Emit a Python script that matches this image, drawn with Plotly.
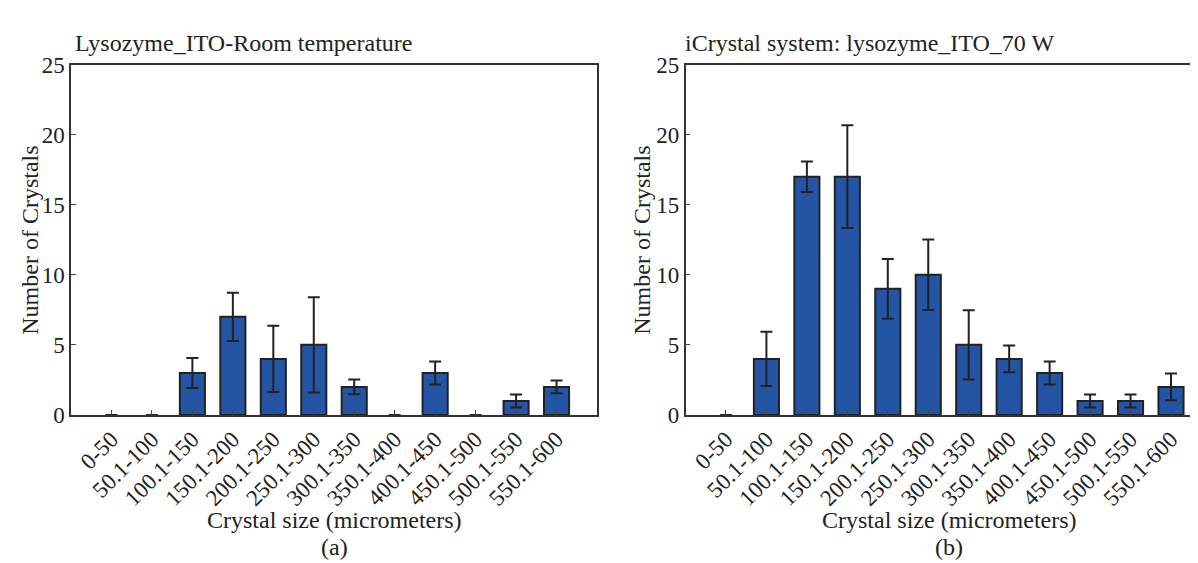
import plotly.graph_objects as go

categories = ["0-50", "50.1-100", "100.1-150", "150.1-200", "200.1-250", "250.1-300",
              "300.1-350", "350.1-400", "400.1-450", "450.1-500", "500.1-550", "550.1-600"]

room_counts = [0, 0, 3, 7, 4, 5, 2, 0, 3, 0, 1, 2]
room_err = [None, None, 1.07, 1.72, 2.37, 3.4, 0.53, None, 0.82, None, 0.46, 0.46]

w70_counts = [0, 4, 17, 17, 9, 10, 5, 4, 3, 1, 1, 2]
w70_err = [None, 1.93, 1.09, 3.67, 2.13, 2.52, 2.47, 0.95, 0.82, 0.46, 0.46, 0.95]

title_a = "Lysozyme_ITO-Room temperature"
title_b = "iCrystal system: lysozyme_ITO_70 W"
xtitle = "Crystal size (micrometers)"
ytitle = "Number of Crystals"
ytick_vals = [0, 5, 10, 15, 20, 25]

W, H = 1198, 563
FONT = "Liberation Serif"
BLUE = "#2455a4"
DARK = "#222222"

def px(x):
    return x / W

def py(y):
    return 1 - y / H

fig = go.Figure()
for counts, err, xa, ya in [(room_counts, room_err, "x", "y"), (w70_counts, w70_err, "x2", "y2")]:
    fig.add_trace(go.Bar(
        x=categories, y=counts, xaxis=xa, yaxis=ya,
        marker=dict(color=BLUE, line=dict(color=DARK, width=[0 if c == 0 else 2 for c in counts])),
        error_y=dict(type="data", array=err, visible=True, color=DARK, thickness=2, width=6),
        showlegend=False,
    ))

ydom = [py(413.3), py(46.6)]
axis_common = dict(
    showgrid=False, zeroline=False, showline=True, linecolor="#333333", linewidth=1.5,
    ticks="inside", ticklen=5, tickcolor="#444444", tickwidth=1.2,
    tickfont=dict(family=FONT, size=23, color=DARK),
)
fig.update_layout(
    width=W, height=H,
    margin=dict(l=0, r=0, t=0, b=0),
    paper_bgcolor="white", plot_bgcolor="white",
    bargap=0.38,
    xaxis=dict(domain=[px(63), px(589)], range=[-1, 12], type="category",
               tickangle=-45, mirror=True, anchor="y", **axis_common),
    yaxis=dict(domain=ydom, range=[0, 25], tickvals=ytick_vals, mirror=True, anchor="x", **axis_common),
    xaxis2=dict(domain=[px(677.5), 1], range=[-1, 11.865], type="category",
                tickangle=-45, mirror=True, anchor="y2", **axis_common),
    yaxis2=dict(domain=ydom, range=[0, 25], tickvals=ytick_vals, mirror=False, anchor="x2", **axis_common),
)

tf = dict(family=FONT, size=24, color=DARK)
ann = [
    dict(text=title_a, x=px(65), y=py(24), xanchor="left", yanchor="middle"),
    dict(text=title_b, x=px(675), y=py(24), xanchor="left", yanchor="middle"),
    dict(text=xtitle, x=px(326), y=py(523), xanchor="center", yanchor="middle"),
    dict(text=xtitle, x=px(941), y=py(523), xanchor="center", yanchor="middle"),
    dict(text="(a)", x=px(326), y=py(551), xanchor="center", yanchor="middle"),
    dict(text="(b)", x=px(941), y=py(551), xanchor="center", yanchor="middle"),
    dict(text=ytitle, x=px(22), y=py(231), xanchor="center", yanchor="middle", textangle=-90),
    dict(text=ytitle, x=px(634), y=py(231), xanchor="center", yanchor="middle", textangle=-90),
]
for a in ann:
    fig.add_annotation(xref="paper", yref="paper", showarrow=False, font=tf, **a)

fig.write_html("out.html")
